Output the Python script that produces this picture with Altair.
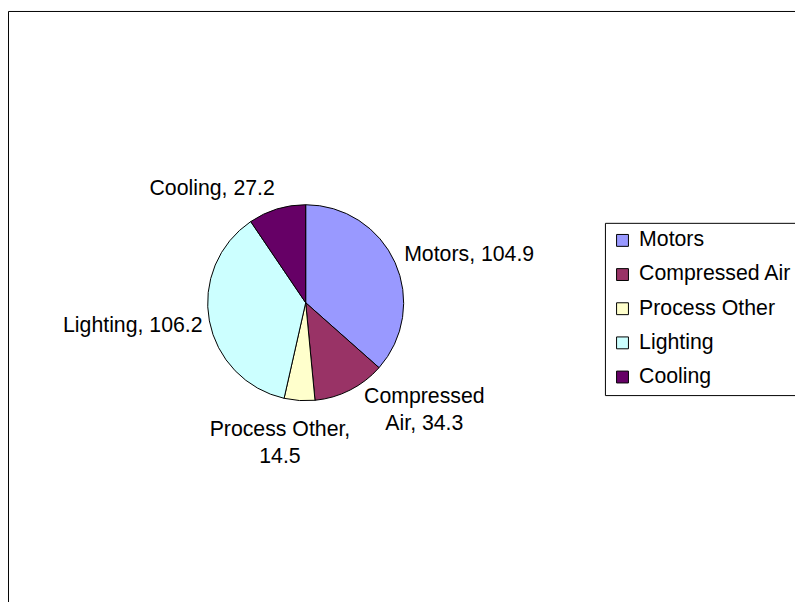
import altair as alt
import pandas as pd

categories = ["Motors", "Compressed Air", "Process Other", "Lighting", "Cooling"]
values = [104.9, 34.3, 14.5, 106.2, 27.2]
colors = ["#9999FF", "#993366", "#FFFFCC", "#CCFFFF", "#660066"]
# how each data label is wrapped (line breaks as in the reference)
label_lines = [
    ["Motors, 104.9"],
    ["Compressed", "Air, 34.3"],
    ["Process Other,", "14.5"],
    ["Lighting, 106.2"],
    ["Cooling, 27.2"],
]

df = pd.DataFrame({
    "category": categories,
    "value": values,
    "idx": list(range(len(categories))),
    "label": ["\n".join(l) for l in label_lines],
})

FONT = "Liberation Sans"
FS = 21.5
CX, CY = 300.7, 294.7

base = alt.Chart(df).encode(
    theta=alt.Theta("value:Q", stack=True),
    order=alt.Order("idx:Q"),
    x=alt.value(CX),
    y=alt.value(CY),
)

pie = base.mark_arc(outerRadius=99, stroke="black", strokeWidth=1).encode(
    color=alt.Color(
        "category:N",
        scale=alt.Scale(domain=categories, range=colors),
        sort=categories,
        legend=alt.Legend(
            title=None,
            orient="none",
            legendX=603,
            legendY=214,
            symbolType="square",
            symbolSize=144,
            symbolStrokeColor="black",
            symbolStrokeWidth=1,
            symbolOpacity=1,
            labelFont=FONT,
            labelFontSize=FS,
            labelColor="black",
            labelOffset=6,
            rowPadding=11.5,
            padding=7,
            strokeColor="black",
            fillColor="white",
            cornerRadius=0,
            labelLimit=400,
        ),
    )
)

def label_layer(cat, radius, align, baseline, dx, dy):
    return base.mark_text(
        radius=radius, align=align, baseline=baseline, dx=dx, dy=dy,
        font=FONT, fontSize=FS, color="black", lineBreak="\n", lineHeight=28,
    ).transform_calculate(
        t=f"datum.category == '{cat}' ? datum.label : ''"
    ).encode(text="t:N", detail="category:N")

labels = [
    label_layer("Motors", 108, "left", "middle", 1, -4),
    label_layer("Compressed Air", 110, "center", "alphabetic", 70, 3),
    label_layer("Process Other", 110, "center", "alphabetic", -19, 24.5),
    label_layer("Lighting", 106, "right", "middle", 0, 3.5),
    label_layer("Cooling", 120, "right", "middle", 4, 0),
]

chart = alt.layer(pie, *labels).properties(
    width=800, height=600,
    autosize=alt.AutoSizeParams(type="none"),
    padding={"left": 0, "top": 0, "right": -5, "bottom": -6},
    background="white",
).configure_view(stroke="black", strokeWidth=1)

chart.save("out.html", embed_options={"renderer": "svg", "actions": False})
